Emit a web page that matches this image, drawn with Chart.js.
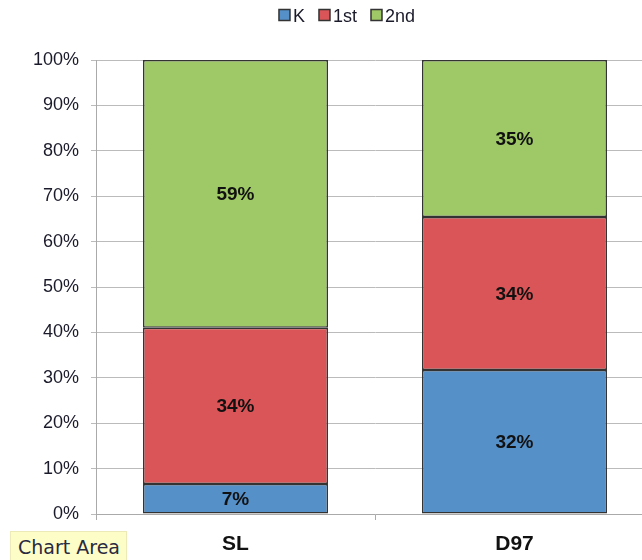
<!DOCTYPE html>
<html>
<head>
<meta charset="utf-8">
<script src="https://cdn.jsdelivr.net/npm/chart.js@4"></script>
<style>
  html, body { margin: 0; padding: 0; background: #fff; overflow: hidden; }
  #wrap { position: relative; width: 642px; height: 560px; overflow: hidden; }
  #box { position: absolute; left: 0; top: 0; width: 700px; height: 560px; }
  #tip {
    position: absolute; left: 10px; top: 531px; height: 32px; padding: 0 6px 0 7px;
    background: #fdfdc8; border: 1px solid #ecebb8; box-sizing: border-box;
    font: 19px "DejaVu Sans", sans-serif; color: #2a2a40; line-height: 30px;
  }
</style>
</head>
<body>
<div id="wrap">
  <div id="box"><canvas id="chartE"></canvas></div>
  <div id="tip">Chart Area</div>
</div>
<script>
let categories = ["SL", "D97"];

let seriesNames = ["K", "1st", "2nd"];
let kValues = [6.6, 31.7];
let firstValues = [34.4, 33.7];
let secondValues = [59.0, 34.6];

let yTicks = [0, 10, 20, 30, 40, 50, 60, 70, 80, 90, 100];

let barColors = ["#5590c9", "#d95557", "#9fc866"];

let fontFam = "'Liberation Sans', Arial, sans-serif";

/////////// VALUE LABELS /////////////

let valueLabels = {
    id: "valueLabels",
    afterDatasetsDraw(chart) {
        let ctx = chart.ctx;
        ctx.save();
        ctx.font = "bold 19px " + fontFam;
        ctx.fillStyle = "#111";
        ctx.textAlign = "center";
        ctx.textBaseline = "middle";
        chart.data.datasets.forEach((ds, i) => {
            chart.getDatasetMeta(i).data.forEach((bar, j) => {
                let mid = (bar.y + bar.base) / 2;
                ctx.fillText(Math.round(ds.data[j]) + "%", bar.x, mid + 1);
            });
        });
        ctx.restore();
    },
};

/////////// LEGEND (tight box/text gap like the original) /////////////

let topLegend = {
    id: "topLegend",
    afterDraw(chart) {
        let ctx = chart.ctx;
        let box = 11, gap = 3, itemGap = 14, cx = 347, cy = 15;
        ctx.save();
        ctx.font = "18px " + fontFam;
        let items = chart.data.datasets.map(ds => ({ ds: ds, w: ctx.measureText(ds.label).width }));
        let total = items.reduce((s, it) => s + box + gap + it.w, 0) + itemGap * (items.length - 1);
        let x = cx - total / 2;
        ctx.textBaseline = "middle";
        ctx.textAlign = "left";
        items.forEach(it => {
            ctx.fillStyle = it.ds.backgroundColor;
            ctx.fillRect(x, cy - box / 2, box, box);
            ctx.strokeStyle = "#333";
            ctx.lineWidth = 1.5;
            ctx.strokeRect(x, cy - box / 2, box, box);
            ctx.fillStyle = "#1a1a2a";
            ctx.fillText(it.ds.label, x + box + gap, cy + 2);
            x += box + gap + it.w + itemGap;
        });
        ctx.restore();
    },
};

let statsGraphData = {
    labels: categories,
    datasets: [kValues, firstValues, secondValues].map((vals, i) => ({
        label: seriesNames[i],
        data: vals,
        backgroundColor: barColors[i],
        borderColor: "#333",
        borderWidth: 1.5,
        borderSkipped: false,
        categoryPercentage: 1,
        barPercentage: 0.663,
    })),
};

let statsGraphOptions = {
    responsive: false,
    animation: false,
    maintainAspectRatio: false,
    layout: { padding: { top: 60, right: 46, left: 0, bottom: 0 } },
    scales: {
        x: {
            stacked: true,
            grid: { drawOnChartArea: false, drawTicks: true, tickLength: 6, color: "#aaa" },
            border: { color: "#aaa", width: 1 },
            ticks: {
                color: "#111",
                padding: 12,
                font: { family: fontFam, size: 21, weight: "bold" },
            },
            afterFit(scale) { scale.height = 46; },
        },
        y: {
            stacked: true,
            min: 0,
            max: 100,
            afterBuildTicks(scale) { scale.ticks = yTicks.map(v => ({ value: v })); },
            grid: { color: "#bbb", tickLength: 5, lineWidth: 1 },
            border: { color: "#aaa", width: 1 },
            ticks: {
                color: "#1a1a2a",
                padding: 12,
                callback: v => v + "%",
                font: { family: fontFam, size: 18 },
            },
            afterFit(scale) { scale.width = 96; },
        },
    },
    plugins: {
        legend: { display: false },
        tooltip: { enabled: false },
    },
};

let canvasE = document.getElementById("chartE");
canvasE.width = 700;
canvasE.height = 560;

let colorsGraph = new Chart(canvasE, {
    plugins: [valueLabels, topLegend],
    type: "bar",
    data: statsGraphData,
    options: statsGraphOptions,
});
</script>
</body>
</html>
